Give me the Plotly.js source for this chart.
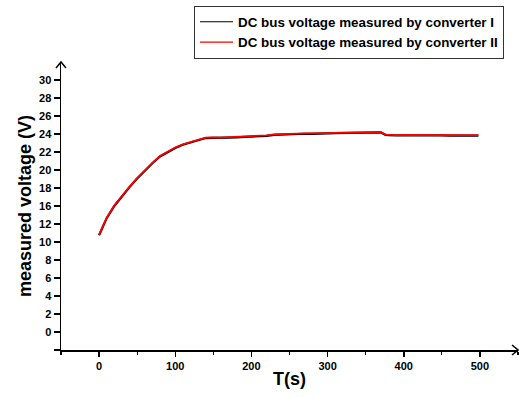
<!DOCTYPE html>
<html>
<head>
<meta charset="utf-8">
<script src="https://cdn.plot.ly/plotly-3.0.1.min.js"></script>
<style>html,body{margin:0;padding:0;background:#fff;}#chart{width:519px;height:397px;}</style>
</head>
<body>
<div id="chart"></div>
<script>
// Time (s)
var timeS = [0,5,10,20,30,40,50,60,70,80,90,100,110,120,130,140,150,160,170,180,190,200,210,220,230,240,250,260,270,280,290,300,310,320,330,340,350,360,370,376,380,390,400,410,420,430,440,450,460,470,480,490,498];
// DC bus voltage measured by converter I (black)
var voltageConvI = [12.75,13.75,14.65,16.0,17.1,18.1,19.05,19.95,20.75,21.5,22.0,22.45,22.8,23.05,23.35,23.55,23.58,23.55,23.6,23.62,23.65,23.68,23.7,23.8,23.9,23.95,24.0,24.02,24.03,24.02,24.08,24.07,24.1,24.12,24.1,24.1,24.12,24.15,24.17,23.9,23.86,23.85,23.86,23.84,23.85,23.83,23.85,23.84,23.82,23.84,23.82,23.83,23.83];
// DC bus voltage measured by converter II (red)
var voltageConvII = [12.8,13.8,14.7,16.05,17.15,18.15,19.1,20.0,20.8,21.55,22.05,22.5,22.85,23.1,23.4,23.6,23.63,23.6,23.66,23.7,23.7,23.72,23.76,23.85,23.95,24.0,24.03,24.05,24.06,24.05,24.1,24.1,24.13,24.15,24.14,24.13,24.16,24.18,24.2,23.93,23.9,23.88,23.9,23.88,23.9,23.87,23.9,23.88,23.86,23.88,23.86,23.86,23.87];
// Y-axis tick positions and labels as printed in the reference
var yTickPositions = [0,2,4,6,8,10,12,14,16,18,20,22,24,26,28,30];
var yTickLabels = ['','0','2','4','6','8','10','12','16','18','20','22','24','26','28','30'];
var seriesNames = ['DC bus voltage measured by converter I','DC bus voltage measured by converter II'];
var seriesColors = ['#000000', '#ff0000'];

var fontFam = 'Liberation Sans, Arial, sans-serif';

var traces = [
  {x: timeS, y: voltageConvI, type: 'scatter', mode: 'lines', name: seriesNames[0],
   showlegend: false, legendgroup: 'a', line: {color: seriesColors[0], width: 2.2}},
  {x: timeS, y: voltageConvII, type: 'scatter', mode: 'lines', name: seriesNames[1],
   showlegend: false, legendgroup: 'b', line: {color: seriesColors[1], width: 1.8}},
  // legend entries (thin lines as in the reference legend)
  {x: [null], y: [null], type: 'scatter', mode: 'lines', name: seriesNames[0],
   legendgroup: 'a', line: {color: seriesColors[0], width: 1.2}},
  {x: [null], y: [null], type: 'scatter', mode: 'lines', name: seriesNames[1],
   legendgroup: 'b', line: {color: seriesColors[1], width: 1.3}}
];

var ax = 5/457, ay = 6/288;
var layout = {
  width: 519, height: 397,
  margin: {l: 61, r: 1, t: 62, b: 47},
  paper_bgcolor: '#ffffff', plot_bgcolor: '#ffffff',
  font: {family: fontFam, color: '#000', size: 11, weight: 'bold'},
  showlegend: true,
  legend: {x: 0.9694, xanchor: 'right', y: 1.196, yanchor: 'top',
           bgcolor: '#ffffff', bordercolor: '#333', borderwidth: 1,
           font: {family: fontFam, size: 13.4, color: '#000', weight: 'bold'},
           itemwidth: 33, tracegroupgap: 0, traceorder: 'normal'},
  xaxis: {range: [-50, 550], tick0: 0, dtick: 100, showgrid: false, zeroline: false,
          showline: true, linecolor: '#000', linewidth: 1.5,
          ticks: 'outside', ticklen: 5, tickwidth: 1.5, tickcolor: '#000',
          minor: {ticks: 'outside', ticklen: 3, tickwidth: 1.2, tickcolor: '#000', dtick: 50, tick0: 0},
          tickfont: {family: fontFam, size: 11, weight: 'bold'},
          title: {text: 'T(s)', standoff: 1, font: {family: fontFam, size: 18, weight: 'bold'}},
          automargin: false, fixedrange: true},
  yaxis: {range: [0, 32], tickmode: 'array', tickvals: yTickPositions, ticktext: yTickLabels,
          showgrid: false, zeroline: false,
          showline: true, linecolor: '#000', linewidth: 1.5,
          ticks: 'outside', ticklen: 6, tickwidth: 1.5, tickcolor: '#000',
          tickfont: {family: fontFam, size: 11, weight: 'bold'},
          title: {text: 'measured voltage (V)', standoff: 2, font: {family: fontFam, size: 18, weight: 'bold'}},
          automargin: false, fixedrange: true},
  shapes: [
    {type: 'path', xref: 'paper', yref: 'paper',
     path: 'M ' + (-ax) + ',' + (1 - ay) + ' L 0,1 L ' + ax + ',' + (1 - ay),
     line: {color: '#000', width: 1.5}},
    {type: 'path', xref: 'paper', yref: 'paper',
     path: 'M ' + (1 - 6/457) + ',' + (5/288) + ' L 1,0 L ' + (1 - 6/457) + ',' + (-5/288),
     line: {color: '#000', width: 1.5}}
  ]
};

Plotly.newPlot('chart', traces, layout, {staticPlot: true, displayModeBar: false});
</script>
</body>
</html>
